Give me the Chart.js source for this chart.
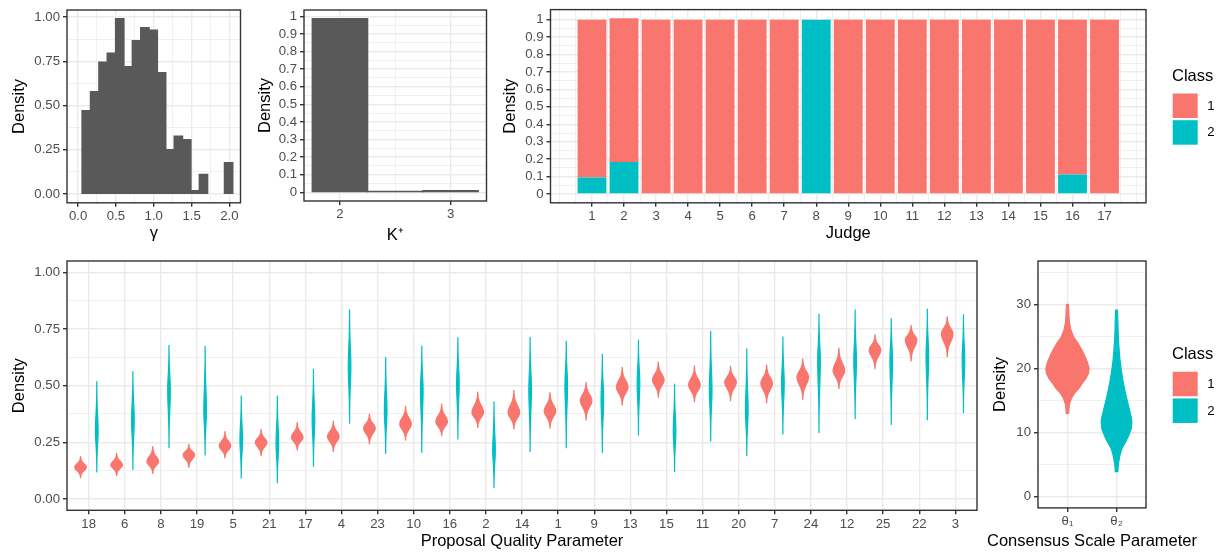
<!DOCTYPE html>
<html>
<head>
<meta charset="utf-8">
<script src="https://cdn.jsdelivr.net/npm/chart.js@4.4.1/dist/chart.umd.min.js"></script>
<style>
  body { margin: 0; background: #fff; width: 1223px; height: 555px; overflow: hidden; position: relative; }
  canvas { position: absolute; }
</style>
</head>
<body>
<canvas id="gamma"></canvas>
<canvas id="kplus"></canvas>
<canvas id="judge"></canvas>
<canvas id="quality"></canvas>
<canvas id="scale"></canvas>
<script>
// ---- data ----
// gamma histogram (bin centres, density)
const gammaBins = [0.108, 0.219, 0.330, 0.440, 0.551, 0.662, 0.772, 0.883, 0.993, 1.104, 1.215, 1.325, 1.436, 1.547, 1.657, 1.768, 1.878, 1.989];
const gammaDensity = [0.471, 0.578, 0.744, 0.795, 0.990, 0.719, 0.866, 0.940, 0.925, 0.685, 0.250, 0.326, 0.307, 0.019, 0.111, 0, 0, 0.177];

// K+ histogram
const kBins = [2, 2.5, 3];
const kDensity = [0.987, 0.005, 0.009];

// judge class membership
const judges = [1, 2, 3, 4, 5, 6, 7, 8, 9, 10, 11, 12, 13, 14, 15, 16, 17];
const judgeClass1 = [0.905, 0.824, 1, 1, 1, 1, 1, 0, 1, 1, 1, 1, 1, 1, 1, 0.888, 1];
const judgeClass2 = [0.095, 0.184, 0, 0, 0, 0, 0, 1, 0, 0, 0, 0, 0, 0, 0, 0.112, 0];

// proposal quality violins: low end, mode, high end per class
const proposals = ['18', '6', '8', '19', '5', '21', '17', '4', '23', '10', '16', '2', '14', '1', '9', '13', '15', '11', '20', '7', '24', '12', '25', '22', '3'];
const q1Low  = [0.094, 0.104, 0.113, 0.140, 0.181, 0.191, 0.216, 0.210, 0.243, 0.260, 0.279, 0.316, 0.309, 0.313, 0.349, 0.415, 0.449, 0.428, 0.434, 0.425, 0.440, 0.487, 0.575, 0.609, 0.628];
const q1Mode = [0.140, 0.150, 0.165, 0.194, 0.234, 0.249, 0.272, 0.275, 0.312, 0.331, 0.341, 0.382, 0.381, 0.388, 0.434, 0.493, 0.525, 0.503, 0.515, 0.510, 0.537, 0.566, 0.657, 0.701, 0.728];
const q1High = [0.187, 0.201, 0.231, 0.241, 0.297, 0.307, 0.337, 0.344, 0.375, 0.409, 0.419, 0.472, 0.478, 0.469, 0.515, 0.581, 0.604, 0.587, 0.585, 0.591, 0.618, 0.666, 0.724, 0.766, 0.804];
const q2Low  = [0.119, 0.131, 0.226, 0.194, 0.093, 0.072, 0.144, 0.334, 0.201, 0.206, 0.265, 0.050, 0.210, 0.226, 0.206, 0.282, 0.121, 0.256, 0.191, 0.287, 0.293, 0.354, 0.329, 0.350, 0.381];
const q2Mode = [0.300, 0.350, 0.480, 0.390, 0.260, 0.245, 0.350, 0.584, 0.390, 0.480, 0.510, 0.216, 0.480, 0.500, 0.440, 0.510, 0.300, 0.480, 0.390, 0.510, 0.610, 0.610, 0.610, 0.630, 0.610];
const q2High = [0.518, 0.562, 0.678, 0.675, 0.454, 0.454, 0.572, 0.834, 0.625, 0.675, 0.712, 0.429, 0.713, 0.697, 0.638, 0.701, 0.507, 0.740, 0.662, 0.715, 0.816, 0.834, 0.796, 0.838, 0.813];

// consensus scale violins: value levels and relative density width
const thetas = ['θ₁', 'θ₂'];
const theta1Levels = [30.0, 29.1, 28.1, 27.0, 26.0, 24.9, 23.9, 22.9, 21.8, 20.8, 20.0, 19.2, 18.4, 17.7, 16.9, 16.1, 15.3, 14.5, 13.75, 13.0];
const theta1Width  = [0.04, 0.06, 0.07, 0.10, 0.16, 0.29, 0.49, 0.66, 0.82, 0.94, 1.00, 0.97, 0.85, 0.69, 0.53, 0.32, 0.18, 0.10, 0.07, 0.06];
const theta2Levels = [29.1, 27.6, 26.0, 24.4, 22.9, 21.3, 19.7, 18.2, 16.6, 15.0, 13.5, 12.4, 11.7, 10.6, 9.6, 8.5, 7.5, 6.5, 5.4, 4.6, 3.9];
const theta2Width  = [0.04, 0.06, 0.07, 0.09, 0.12, 0.16, 0.22, 0.29, 0.38, 0.49, 0.60, 0.68, 0.71, 0.68, 0.57, 0.41, 0.25, 0.16, 0.10, 0.07, 0.06];

const classNames = ['1', '2'];

// tick / grid positions
const gammaTicks = [0, 0.5, 1, 1.5, 2], gammaMinor = [0.25, 0.75, 1.25, 1.75];
const densTicks = [0, 0.25, 0.5, 0.75, 1], densMinor = [0.125, 0.375, 0.625, 0.875];
const kTicks = [2, 3], kMinor = [2.5];
const probTicks = [0, 0.1, 0.2, 0.3, 0.4, 0.5, 0.6, 0.7, 0.8, 0.9, 1];
const probMinor = [0.05, 0.15, 0.25, 0.35, 0.45, 0.55, 0.65, 0.75, 0.85, 0.95];
const judgeMinor = [0, 18].concat(judges.map(j => j - 0.5)).concat([17.5]);
const scaleTicks = [0, 10, 20, 30], scaleMinor = [5, 15, 25, 35];

// ---- styling ----
const FONT = '"Liberation Sans", Arial, sans-serif';
const GRID = '#EBEBEB', INK = '#333333', TICK_TXT = '#4D4D4D';
const RED = '#F8766D', TEAL = '#00BFC4', BAR = '#595959';
const classColors = [RED, TEAL];
Chart.defaults.font.family = FONT;

function makeAxis(o) {
  const all = o.major.concat(o.minor || []).sort((a, b) => a - b);
  const isMajor = v => o.major.some(m => Math.abs(m - v) < 1e-9);
  return {
    type: 'linear', min: o.min, max: o.max, offset: false, stacked: !!o.stacked,
    afterBuildTicks: s => { s.ticks = all.map(v => ({ value: v })); },
    afterFit: s => { if (s.isHorizontal()) s.height = o.size; else s.width = o.size; },
    border: { display: false },
    grid: {
      offset: false, drawTicks: true, tickLength: 4, color: GRID, tickWidth: 1.4,
      lineWidth: c => (c.tick && isMajor(c.tick.value)) ? 1.4 : 0.7,
      tickColor: c => (c.tick && isMajor(c.tick.value)) ? INK : 'rgba(0,0,0,0)'
    },
    ticks: {
      autoSkip: false, maxRotation: 0, minRotation: 0, padding: 3, color: TICK_TXT,
      font: { family: FONT, size: 13.2, lineHeight: 1 },
      callback: v => isMajor(v) ? o.label(v) : ''
    },
    title: o.title
      ? { display: true, text: o.title, color: '#000', font: { family: FONT, size: 16.5, lineHeight: 1.2 }, padding: o.titlePad }
      : { display: false }
  };
}

const framePlugin = {
  id: 'frame',
  afterDraw(chart) {
    const { ctx, chartArea: a } = chart;
    ctx.save();
    ctx.strokeStyle = INK;
    ctx.lineWidth = 1.4;
    ctx.strokeRect(a.left, a.top, a.right - a.left, a.bottom - a.top);
    ctx.restore();
  }
};

const legendPlugin = {
  id: 'classLegend',
  afterDraw(chart) {
    const { ctx, chartArea: a } = chart;
    const x = a.right + 26, cy = (a.top + a.bottom) / 2;
    ctx.save();
    ctx.textBaseline = 'middle';
    ctx.textAlign = 'left';
    ctx.fillStyle = '#000';
    ctx.font = '16.5px ' + FONT;
    ctx.fillText('Class', x, cy - 30);
    classNames.forEach((name, k) => {
      const top = cy - 12.7 + k * 26.7;
      ctx.fillStyle = classColors[k];
      ctx.fillRect(x + 0.7, top, 25, 24.5);
      ctx.fillStyle = '#000';
      ctx.font = '13.2px ' + FONT;
      ctx.fillText(name, x + 35.3, top + 12.5);
    });
    ctx.restore();
  }
};

// draws each violin on top of its (transparent) floating bar element
const violinPlugin = {
  id: 'violins',
  afterDatasetsDraw(chart) {
    const { ctx } = chart;
    const ys = chart.scales.y;
    chart.data.datasets.forEach((ds, d) => {
      const meta = chart.getDatasetMeta(d);
      meta.data.forEach((el, i) => {
        const raw = ds.data[i];
        if (!raw || raw.y == null) return;
        const cx = el.x, half = el.width / 2 * ds.violinWidth;
        let pts = [];
        if (raw.levels) {
          pts = raw.levels.map((lv, k) => [ys.getPixelForValue(lv), half * raw.widths[k]]);
        } else {
          // smooth bell outline through the read low / mode / high values
          const [lo, hi] = raw.y, m = raw.mode;
          for (let k = 0; k <= 48; k++) {
            const v = lo + (hi - lo) * k / 48;
            const s = v < m ? (m - lo) / 3 : (hi - m) / 3;
            const z = (v - m) / s;
            pts.push([ys.getPixelForValue(v), half * Math.exp(-0.5 * z * z)]);
          }
        }
        ctx.save();
        ctx.fillStyle = ds.violinColor;
        ctx.strokeStyle = ds.violinColor;
        ctx.lineWidth = 1.2;
        ctx.lineJoin = 'round';
        ctx.beginPath();
        pts.forEach(([py, w], k) => k ? ctx.lineTo(cx + w, py) : ctx.moveTo(cx + w, py));
        for (let k = pts.length - 1; k >= 0; k--) ctx.lineTo(cx - pts[k][1], pts[k][0]);
        ctx.closePath();
        ctx.fill();
        ctx.stroke();
        ctx.restore();
      });
    });
  }
};

const wideTitlePlugin = (text, midY) => ({
  id: 'wideTitle',
  afterDraw(chart) {
    const { ctx, chartArea: a } = chart;
    ctx.save();
    ctx.fillStyle = '#000';
    ctx.font = '16.5px ' + FONT;
    ctx.textAlign = 'center';
    ctx.textBaseline = 'middle';
    ctx.fillText(text, (a.left + a.right) / 2, midY);
    ctx.restore();
  }
});

function panel(id, pos, frame, cfg) {
  const cv = document.getElementById(id);
  cv.width = pos.w; cv.height = pos.h;
  cv.style.left = pos.x + 'px'; cv.style.top = pos.y + 'px';
  cfg.options = Object.assign({
    responsive: false, animation: false, devicePixelRatio: 1, events: [],
    layout: { padding: { left: 0, bottom: 0, top: frame.t - pos.y, right: pos.x + pos.w - frame.r } },
    plugins: { legend: { display: false }, tooltip: { enabled: false } }
  }, cfg.options);
  return new Chart(cv, cfg);
}

const fmt = d => v => v.toFixed(d);
const plain = v => String(+v.toFixed(2));
const LH = 9.9; // half line height of the titles
// histogram bars touch: overlap them a little so no seams show
const histInflate = c => (c.raw && c.raw.y > 0) ? 0.7 : 0;

// ---- gamma histogram ----
{
  const pos = { x: 0, y: 0, w: 250, h: 250 }, f = { l: 67, t: 10, r: 240.5, b: 202.8 };
  panel('gamma', pos, f, {
    type: 'bar',
    data: { datasets: [{ data: gammaBins.map((b, i) => ({ x: b, y: gammaDensity[i] })), backgroundColor: BAR, barPercentage: 1, categoryPercentage: 1, inflateAmount: histInflate }] },
    options: {
      scales: {
        x: makeAxis({ min: -0.146, max: 2.146, major: gammaTicks, minor: gammaMinor, label: fmt(1), size: pos.y + pos.h - f.b, title: 'γ', titlePad: { bottom: pos.y + pos.h - 233 - LH } }),
        y: makeAxis({ min: -0.0495, max: 1.0395, major: densTicks, minor: densMinor, label: fmt(2), size: f.l - pos.x, title: 'Density', titlePad: { top: 19 - pos.x - LH } })
      }
    },
    plugins: [framePlugin]
  });
}

// ---- K+ histogram ----
{
  const pos = { x: 240, y: 0, w: 250, h: 250 }, f = { l: 304, t: 10, r: 486.5, b: 201 };
  panel('kplus', pos, f, {
    type: 'bar',
    data: { datasets: [{ data: kBins.map((b, i) => ({ x: b, y: kDensity[i] })), backgroundColor: BAR, barPercentage: 1, categoryPercentage: 1, inflateAmount: histInflate }] },
    options: {
      scales: {
        x: makeAxis({ min: 1.675, max: 3.325, major: kTicks, minor: kMinor, label: plain, size: pos.y + pos.h - f.b, title: 'K⁺', titlePad: { bottom: pos.y + pos.h - 235 - LH } }),
        y: makeAxis({ min: -0.049, max: 1.036, major: probTicks, minor: probMinor, label: plain, size: f.l - pos.x, title: 'Density', titlePad: { top: 265 - pos.x - LH } })
      }
    },
    plugins: [framePlugin]
  });
}

// ---- judge class membership ----
{
  const pos = { x: 490, y: 0, w: 733, h: 250 }, f = { l: 550.5, t: 9.5, r: 1146, b: 202.8 };
  // grid ticks every 0.5 set the bar ruler, so 1.8 x 0.5 gives bars 0.9 wide
  const barOpts = { barPercentage: 1, categoryPercentage: 1.8 };
  panel('judge', pos, f, {
    type: 'bar',
    data: {
      datasets: [
        Object.assign({ label: '2', data: judges.map((j, i) => ({ x: j, y: judgeClass2[i] })), backgroundColor: TEAL }, barOpts),
        Object.assign({ label: '1', data: judges.map((j, i) => ({ x: j, y: judgeClass1[i] })), backgroundColor: RED }, barOpts)
      ]
    },
    options: {
      scales: {
        x: makeAxis({ min: -0.295, max: 18.295, major: judges, minor: judgeMinor, stacked: true, label: plain, size: pos.y + pos.h - f.b, title: 'Judge', titlePad: { bottom: pos.y + pos.h - 233 - LH } }),
        y: makeAxis({ min: -0.0504, max: 1.058, major: probTicks, minor: probMinor, stacked: true, label: plain, size: f.l - pos.x, title: 'Density', titlePad: { top: 510 - pos.x - LH } })
      }
    },
    plugins: [framePlugin, legendPlugin]
  });
}

// ---- proposal quality violins ----
{
  const pos = { x: 0, y: 250, w: 985, h: 305 }, f = { l: 67, t: 261, r: 977, b: 510.3 };
  const idx = proposals.map((p, i) => i);
  const hidden = { backgroundColor: 'rgba(0,0,0,0)', borderWidth: 0, barPercentage: 1, categoryPercentage: 0.9 };
  panel('quality', pos, f, {
    type: 'bar',
    data: {
      datasets: [
        Object.assign({ label: '1', violinColor: RED, violinWidth: 0.71, data: idx.map(i => ({ x: i, y: [q1Low[i], q1High[i]], mode: q1Mode[i] })) }, hidden),
        Object.assign({ label: '2', violinColor: TEAL, violinWidth: 0.16, data: idx.map(i => ({ x: i, y: [q2Low[i], q2High[i]], mode: q2Mode[i] })) }, hidden)
      ]
    },
    options: {
      scales: {
        x: makeAxis({ min: -0.6, max: 24.6, major: idx, label: v => proposals[Math.round(v)], size: pos.y + pos.h - f.b, title: 'Proposal Quality Parameter', titlePad: { bottom: pos.y + pos.h - 541 - LH } }),
        y: makeAxis({ min: -0.05, max: 1.05, major: densTicks, minor: densMinor, label: fmt(2), size: f.l - pos.x, title: 'Density', titlePad: { top: 19 - pos.x - LH } })
      }
    },
    plugins: [violinPlugin, framePlugin]
  });
}

// ---- consensus scale violins ----
{
  const pos = { x: 975, y: 250, w: 248, h: 305 }, f = { l: 1038, t: 261, r: 1146, b: 507.9 };
  const hidden = { backgroundColor: 'rgba(0,0,0,0)', borderWidth: 0, barPercentage: 1, categoryPercentage: 0.9, skipNull: true };
  panel('scale', pos, f, {
    type: 'bar',
    data: {
      datasets: [
        Object.assign({ label: '1', violinColor: RED, violinWidth: 0.98, data: [
          { x: 0, y: [theta1Levels[theta1Levels.length - 1], theta1Levels[0]], levels: theta1Levels, widths: theta1Width },
          { x: 1, y: null }] }, hidden),
        Object.assign({ label: '2', violinColor: TEAL, violinWidth: 0.98, data: [
          { x: 0, y: null },
          { x: 1, y: [theta2Levels[theta2Levels.length - 1], theta2Levels[0]], levels: theta2Levels, widths: theta2Width }] }, hidden)
      ]
    },
    options: {
      scales: {
        x: makeAxis({ min: -0.6, max: 1.6, major: [0, 1], label: v => thetas[Math.round(v)], size: pos.y + pos.h - f.b }),
        y: makeAxis({ min: -1.75, max: 36.75, major: scaleTicks, minor: scaleMinor, label: plain, size: f.l - pos.x, title: 'Density', titlePad: { top: 1000 - pos.x - LH } })
      }
    },
    plugins: [violinPlugin, framePlugin, legendPlugin, wideTitlePlugin('Consensus Scale Parameter', 541 - pos.y)]
  });
}
</script>
</body>
</html>
